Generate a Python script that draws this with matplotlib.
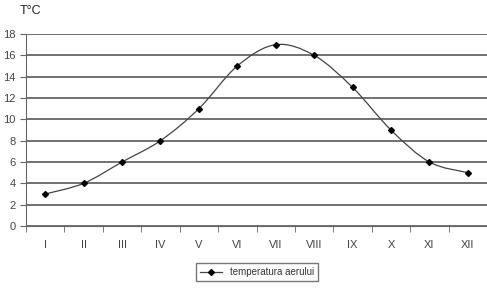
import numpy as np
import matplotlib
matplotlib.use("Agg")
import matplotlib.pyplot as plt
from matplotlib.path import Path
from matplotlib.patches import PathPatch
from matplotlib.lines import Line2D

months = ["I", "II", "III", "IV", "V", "VI", "VII", "VIII", "IX", "X", "XI", "XII"]
temperatura = [3, 4, 6, 8, 11, 15, 17, 16, 13, 9, 6, 5]
y_ticks = [0, 2, 4, 6, 8, 10, 12, 14, 16, 18]

plt.rcParams['font.family'] = ['Liberation Sans', 'DejaVu Sans']

fig = plt.figure(figsize=(4.87, 3.04), dpi=100)
ax = fig.add_axes([26 / 487, 1 - 226 / 304, 1 - 26 / 487, 192 / 304])

x = np.arange(len(months))
ax.set_xlim(-0.5, len(months) - 0.5)
ax.set_ylim(0, 18)

# smoothed line (Catmull-Rom -> bezier, like Excel)
pts = np.column_stack([x, temperatura]).astype(float)
verts = [pts[0]]
codes = [Path.MOVETO]
for i in range(len(pts) - 1):
    p0 = pts[i - 1] if i > 0 else pts[i]
    p1 = pts[i]
    p2 = pts[i + 1]
    p3 = pts[i + 2] if i + 2 < len(pts) else pts[i + 1]
    c1 = p1 + (p2 - p0) / 6
    c2 = p2 - (p3 - p1) / 6
    verts += [c1, c2, p2]
    codes += [Path.CURVE4] * 3
ax.add_patch(PathPatch(Path(verts, codes), facecolor='none', edgecolor='#444444', lw=0.9, zorder=3))
ax.plot(x, temperatura, ls='none', marker='D', ms=3, color='black', zorder=4)

ax.set_yticks(y_ticks)
ax.yaxis.grid(True, color='#666666', lw=1.3)
ax.set_axisbelow(True)
ax.set_xticks(x)
ax.set_xticklabels(months)
ax.set_xticks(np.arange(-0.5, len(months)), minor=True)
ax.tick_params(axis='x', which='major', length=0, pad=10, labelsize=8, colors='#444444')
ax.tick_params(axis='x', which='minor', length=4, color='#666666')
ax.tick_params(axis='y', length=4, labelsize=8, colors='#444444', color='#666666')

for s in ['top', 'right']:
    ax.spines[s].set_visible(False)
ax.spines['left'].set_color('#666666')
ax.spines['bottom'].set_color('#666666')

fig.text(20 / 487, 1 - 11 / 304, "T°C", fontsize=9, ha='left', va='center', color='#222222')

handle = Line2D([], [], color='#444444', lw=0.9, marker='D', ms=3, mfc='black', mec='black')
fig.legend([handle], ["temperatura aerului"], loc='center', bbox_to_anchor=(257 / 487, 1 - 272 / 304),
           fontsize=7, frameon=True, fancybox=False, edgecolor='#555555', handlelength=2.2,
           borderpad=0.4, labelcolor='#333333')

fig.savefig("out.png", dpi=100)
